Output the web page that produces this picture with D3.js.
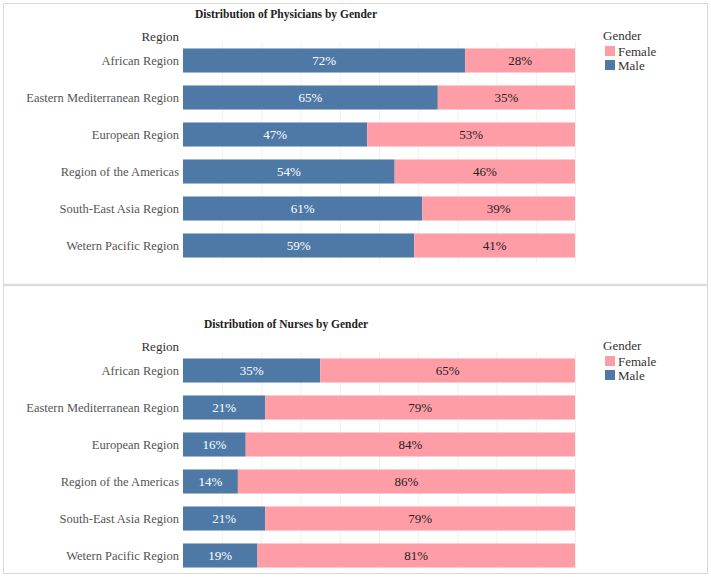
<!DOCTYPE html>
<html>
<head>
<meta charset="utf-8">
<script src="https://cdn.jsdelivr.net/npm/d3@7"></script>
<style>
  body { margin: 0; background: #fff; }
  text { font-family: "Liberation Serif", "DejaVu Serif", serif; }
</style>
</head>
<body>
<div id="chart"></div>
<script>
const regions = ["African Region", "Eastern Mediterranean Region", "European Region",
  "Region of the Americas", "South-East Asia Region", "Wetern Pacific Region"];
const physiciansMale = [72, 65, 47, 54, 61, 59];
const physiciansFemale = [28, 35, 53, 46, 39, 41];
const nursesMale = [35, 21, 16, 14, 21, 19];
const nursesFemale = [65, 79, 84, 86, 79, 81];
const genders = ["Female", "Male"];

const colors = { "Male": "#4e79a7", "Female": "#ff9da7" };

function initChart() {
  const width = 711;
  const height = 577;
  const svg = d3.select("#chart").append("svg")
      .attr("width", width)
      .attr("height", height);

  // outer frame and separator
  svg.append("rect")
      .attr("x", 3.5).attr("y", 3.5)
      .attr("width", width - 7).attr("height", height - 7)
      .attr("fill", "none")
      .attr("stroke", "#d9d9d9");
  svg.append("line")
      .attr("x1", 4).attr("x2", width - 4)
      .attr("y1", 285).attr("y2", 285)
      .attr("stroke", "#dcdcdc")
      .attr("stroke-width", 2.5);

  drawPanel(svg, 0, "Distribution of Physicians by Gender", physiciansMale, physiciansFemale, 263);
  drawPanel(svg, 310, "Distribution of Nurses by Gender", nursesMale, nursesFemale, 569);
}

function drawPanel(svg, top, title, male, female, gridBottom) {
  const x = d3.scaleLinear().domain([0, 100]).range([183, 575]);
  const y = d3.scaleBand().domain(regions).range([top + 42, top + 264]).paddingInner(0.35).paddingOuter(0.175);

  const g = svg.append("g");

  // gridlines
  g.append("g")
    .selectAll("line")
    .data(d3.range(10, 101, 10))
    .join("line")
      .attr("x1", d => x(d) + 0.5)
      .attr("x2", d => x(d) + 0.5)
      .attr("y1", top + 42)
      .attr("y2", gridBottom)
      .attr("stroke", "#f0f0f0");

  g.append("text")
      .attr("x", 286)
      .attr("y", top + 18)
      .attr("text-anchor", "middle")
      .style("font-size", "11.5px")
      .style("font-weight", "bold")
      .attr("fill", "#222")
      .text(title);

  g.append("text")
      .attr("x", 179)
      .attr("y", top + 41)
      .attr("text-anchor", "end")
      .style("font-size", "13px")
      .attr("fill", "#333")
      .text("Region");

  const rows = regions.map((r, i) => ({ region: r, male: male[i], female: female[i] }));

  // region labels
  g.append("g")
    .selectAll("text")
    .data(rows)
    .join("text")
      .attr("x", 179)
      .attr("y", d => y(d.region) + y.bandwidth() / 2)
      .attr("dy", "0.35em")
      .attr("text-anchor", "end")
      .style("font-size", "12.5px")
      .attr("fill", "#555")
      .text(d => d.region);

  // male bars
  g.append("g")
    .selectAll("rect")
    .data(rows)
    .join("rect")
      .attr("x", x(0))
      .attr("y", d => y(d.region))
      .attr("width", d => x(d.male) - x(0))
      .attr("height", y.bandwidth())
      .attr("fill", colors["Male"]);

  // female bars
  g.append("g")
    .selectAll("rect")
    .data(rows)
    .join("rect")
      .attr("x", d => x(d.male))
      .attr("y", d => y(d.region))
      .attr("width", d => x(d.male + d.female) - x(d.male))
      .attr("height", y.bandwidth())
      .attr("fill", colors["Female"]);

  g.append("g")
    .selectAll("text")
    .data(rows)
    .join("text")
      .attr("x", d => x(d.male / 2))
      .attr("y", d => y(d.region) + y.bandwidth() / 2)
      .attr("dy", "0.35em")
      .attr("text-anchor", "middle")
      .style("font-size", "13px")
      .attr("fill", "#fff")
      .text(d => d.male + "%");

  g.append("g")
    .selectAll("text")
    .data(rows)
    .join("text")
      .attr("x", d => x(d.male + d.female / 2))
      .attr("y", d => y(d.region) + y.bandwidth() / 2)
      .attr("dy", "0.35em")
      .attr("text-anchor", "middle")
      .style("font-size", "13px")
      .attr("fill", "#222")
      .text(d => d.female + "%");

  // legend
  const legend = g.append("g").attr("transform", `translate(603,${top})`);
  legend.append("text")
      .attr("x", 0).attr("y", 40)
      .style("font-size", "13px")
      .attr("fill", "#333")
      .text("Gender");
  legend.selectAll("rect")
    .data(genders)
    .join("rect")
      .attr("x", 2)
      .attr("y", (d, i) => 46 + i * 14)
      .attr("width", 10)
      .attr("height", 10)
      .attr("fill", d => colors[d]);
  legend.selectAll("text.item")
    .data(genders)
    .join("text")
      .attr("class", "item")
      .attr("x", 15)
      .attr("y", (d, i) => 51 + i * 14)
      .attr("dy", "0.35em")
      .style("font-size", "13px")
      .attr("fill", "#333")
      .text(d => d);
}

initChart();
</script>
</body>
</html>
